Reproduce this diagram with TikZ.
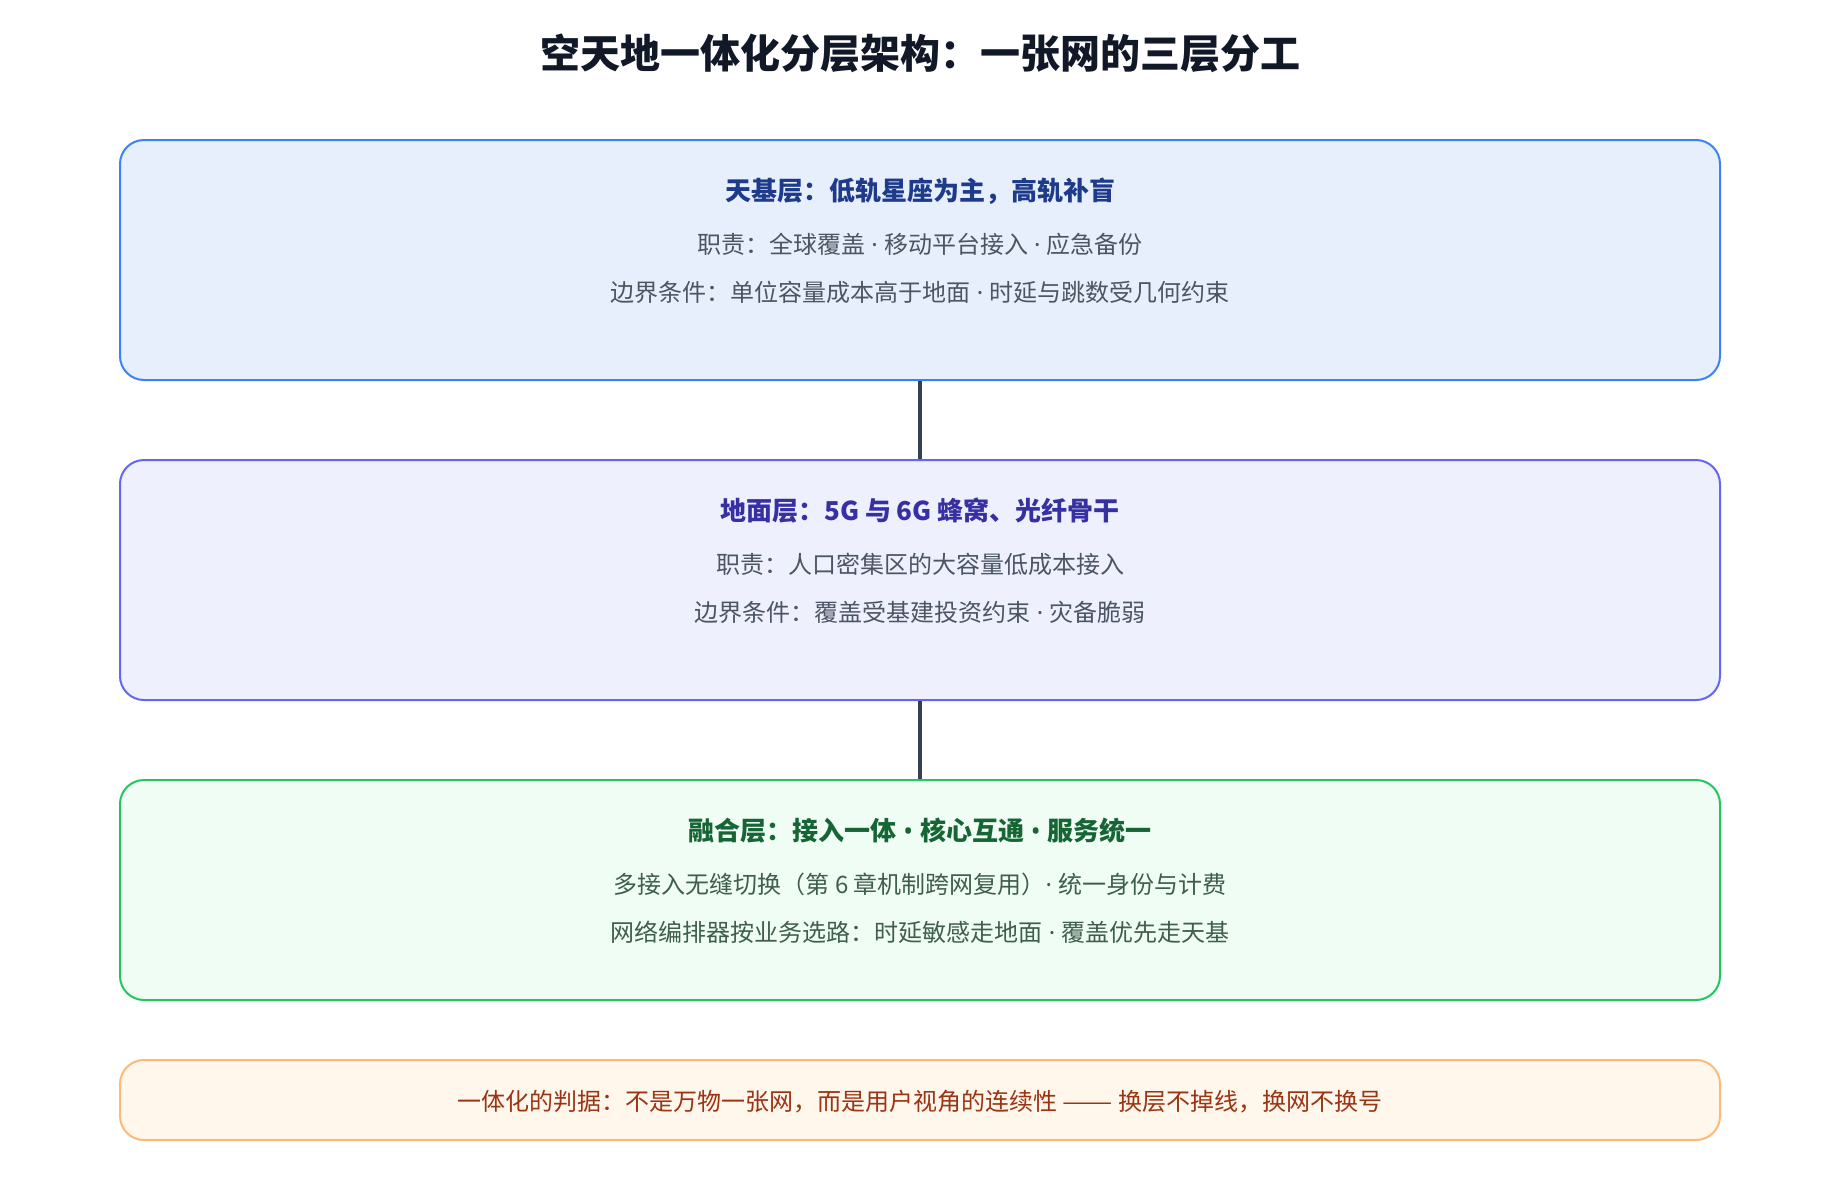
\documentclass[tikz,border=0pt]{standalone}
\usepackage{fontspec}
\setmainfont{Noto Sans CJK SC}
\newfontfamily\dotfont{Noto Sans}
\usepackage{tikz}

\definecolor{titlecol}{HTML}{111827}
\definecolor{skyline}{HTML}{3B82F6}
\definecolor{skyfill}{HTML}{E8EFFC}
\definecolor{skyhead}{HTML}{1E3A8A}
\definecolor{groundline}{HTML}{6366F1}
\definecolor{groundfill}{HTML}{EEF0FE}
\definecolor{groundhead}{HTML}{3730A3}
\definecolor{fuseline}{HTML}{22C55E}
\definecolor{fusefill}{HTML}{F0FDF4}
\definecolor{fusehead}{HTML}{166534}
\definecolor{fusebody}{HTML}{3F5E4B}
\definecolor{noteline}{HTML}{FDBA74}
\definecolor{notefill}{HTML}{FFF6EC}
\definecolor{notetext}{HTML}{9A3412}
\definecolor{bodycol}{HTML}{4B5563}
\definecolor{linkcol}{HTML}{334155}

\newcommand\mdot{{\dotfont\ ·\ }}
\newcommand\hdot{{\dotfont\ •\ }}

\tikzset{
  layer/.style={draw, line width=2pt, rounded corners=24pt, minimum width=1600pt, inner sep=0pt},
  headtext/.style={font=\fontsize{26}{30}\selectfont\bfseries, inner sep=0pt},
  bodytext/.style={font=\fontsize{24}{28}\selectfont, text=bodycol, inner sep=0pt},
  link/.style={draw=linkcol, line width=3.5pt}
}

\begin{document}
\begin{tikzpicture}[x=1pt,y=-1pt]
\useasboundingbox[fill=white] (0,0) rectangle (1840,1200);
\node[font=\fontsize{40}{48}\selectfont\bfseries, text=titlecol] (title) at (920,53) {空天地一体化分层架构：一张网的三层分工};
% layers
\node[layer, draw=skyline, fill=skyfill, minimum height=240pt] (sky) at (920,260) {};
\node[layer, draw=groundline, fill=groundfill, minimum height=240pt] (ground) at (920,580) {};
\node[layer, draw=fuseline, fill=fusefill, minimum height=220pt] (fuse) at (920,890) {};
\node[layer, draw=noteline, fill=notefill, minimum height=80pt] (note) at (920,1100) {};
\draw[link] (sky.south) -- (ground.north);
\draw[link] (ground.south) -- (fuse.north);
% texts
\node[headtext, text=skyhead] (skyt) at (920,191) {天基层：低轨星座为主，高轨补盲};
\node[bodytext] (skya) at (920,244) {职责：全球覆盖\mdot 移动平台接入\mdot 应急备份};
\node[bodytext] (skyb) at (920,292) {边界条件：单位容量成本高于地面\mdot 时延与跳数受几何约束};
\node[headtext, text=groundhead] (groundt) at (920,511) {地面层：5G 与 6G 蜂窝、光纤骨干};
\node[bodytext] (grounda) at (920,564) {职责：人口密集区的大容量低成本接入};
\node[bodytext] (groundb) at (920,612) {边界条件：覆盖受基建投资约束\mdot 灾备脆弱};
\node[headtext, text=fusehead] (fuset) at (920,831) {融合层：接入一体\hdot 核心互通\hdot 服务统一};
\node[bodytext, text=fusebody] (fusea) at (920,884) {多接入无缝切换（第 6 章机制跨网复用）{\dotfont·\ }统一身份与计费};
\node[bodytext, text=fusebody] (fuseb) at (920,932) {网络编排器按业务选路：时延敏感走地面\mdot 覆盖优先走天基};
\node[bodytext, text=notetext] (notet) at (920,1102) {一体化的判据：不是万物一张网，而是用户视角的连续性 \scalebox{1.25}[1]{——} 换层不掉线，换网不换号};
\end{tikzpicture}
\end{document}
